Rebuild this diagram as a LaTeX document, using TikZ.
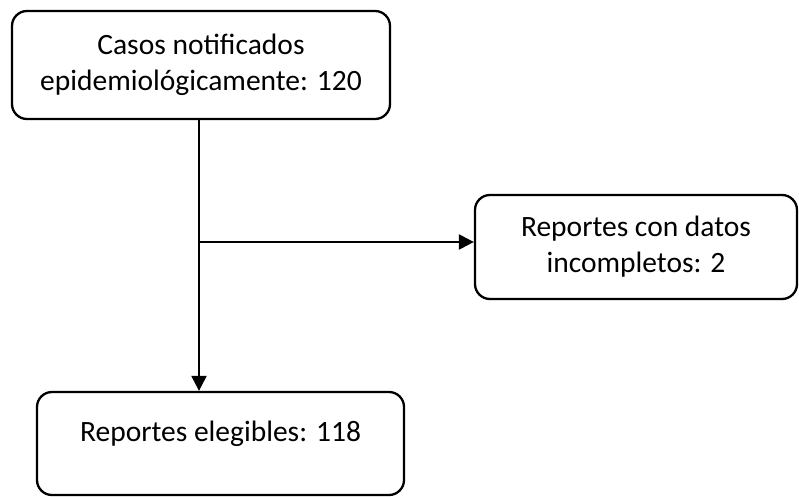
\documentclass[tikz,border=0pt]{standalone}
\usepackage{fontspec}
\setmainfont{Carlito}
\usetikzlibrary{positioning, arrows.meta}

\begin{document}
\begin{tikzpicture}[
      x=1pt, y=-1pt,
      every node/.style={font=\fontsize{29.5}{36}\selectfont},
      flowbox/.style={draw, line width=2.3pt, rounded corners=15pt, align=center, inner sep=0pt},
      >={Triangle[length=15pt, width=15pt]},
    ]
    \useasboundingbox (0,0) rectangle (799,497);
    \node[flowbox, minimum width=378pt, minimum height=108pt] (casos) at (201,65)
      {Casos notificados\\epidemiológicamente: 120};
    \node[flowbox, minimum width=322pt, minimum height=104pt] (incompl) at (636,247)
      {Reportes con datos\\incompletos: 2};
    \node[flowbox, minimum width=367pt, minimum height=103pt, text depth=24pt] (elegib) at (220.5,443.5)
      {Reportes elegibles: 118};

    \coordinate (split) at (199,242);
    \draw[->, line width=2.3pt] (casos.south -| split) -- (elegib.north -| split);
    \draw[->, line width=2.3pt] (split) -- (split -| incompl.west);
  \end{tikzpicture}
\end{document}
